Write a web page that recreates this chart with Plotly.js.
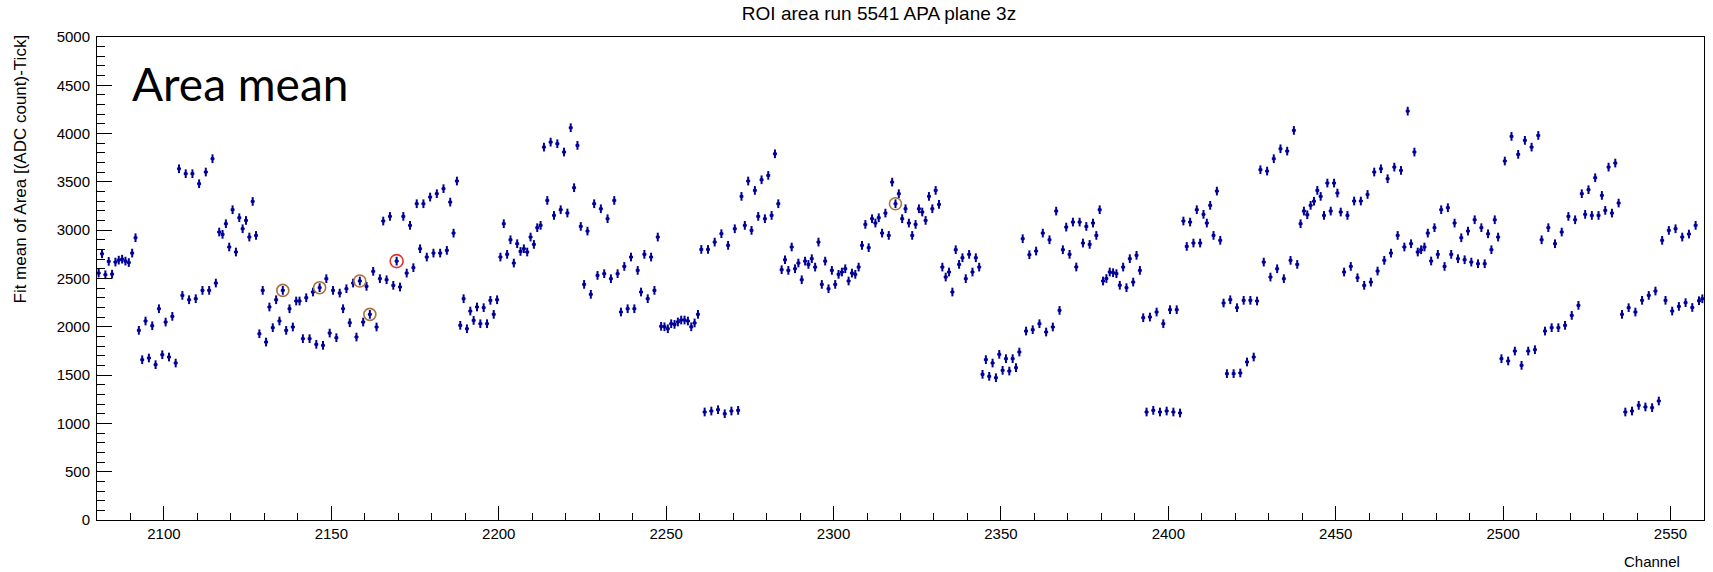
<!DOCTYPE html>
<html>
<head>
<meta charset="utf-8">
<script src="https://cdn.plot.ly/plotly-3.0.1.min.js"></script>
<style>
  html, body { margin: 0; padding: 0; background: #ffffff; }
  #chart { width: 1713px; height: 572px; }
</style>
</head>
<body>
<div id="chart"></div>
<script>
// ---- data: fit mean of ROI area per channel (first channel 2080) ----
const channelStart = 2080;
const areaMeanA = [ // 2080-2159
  2556, 2756, 2539, 2677, 2545, 2670, 2690, 2700, 2680, 2665,
  2763, 2922, 1963, 1659, 2060, 1677, 2011, 1608, 2187, 1711,
  2049, 1687, 2108, 1625, 3636, 2325, 3585, 2280, 3585, 2291,
  3481, 2377, 3602, 2377, 3740, 2453, 2981, 2957, 3067, 2826,
  3212, 2774, 3129, 3015, 3101, 2929, 3298, 2946, 1928, 2377,
  1842, 2205, 1991, 2280, 2060, 2377, 1963, 2187, 1998, 2267,
  2267, 1877, 2301, 1877, 2360, 1818, 2405, 1808, 2498, 1935,
  2377, 1887, 2349, 2187, 2394, 2042, 2453, 1894, 2474, 2049
];
const areaMeanB = [ // 2160-2239
  2419, 2129, 2574, 1998, 2498, 3095, 2487, 3143, 2429, 2680,
  2412, 3143, 2556, 3050, 2612, 3274, 2808, 3274, 2722, 3343,
  2763, 3378, 2763, 3430, 2791, 3291, 2970, 3509, 2015, 2291,
  1980, 2163, 2066, 2205, 2032, 2198, 2032, 2274, 2129, 2280,
  2722, 3067, 2750, 2901, 2660, 2860, 2780, 2808, 2774, 2929,
  2853, 3026, 3050, 3860, 3308, 3912, 3153, 3895, 3212, 3809,
  3178, 4061, 3440, 3878, 3039, 2439, 2991, 2336, 3274, 2532,
  3222, 2550, 3119, 2498, 3308, 2550, 2153, 2625, 2187, 2722
];
const areaMeanC = [ // 2240-2319
  2187, 2584, 2360, 2750, 2291, 2722, 2377, 2929, 2005, 2000,
  1980, 2032, 2025, 2050, 2070, 2070, 2060, 2000, 2040, 2129,
  2801, 1118, 2801, 1128, 2877, 1142, 2964, 1100, 2843, 1128,
  3015, 1135, 3350, 3050, 3509, 2998, 3412, 3143, 3522, 3119,
  3567, 3153, 3791, 3274, 2591, 2694, 2584, 2826, 2601, 2660,
  2487, 2680, 2646, 2705, 2618, 2877, 2439, 2680, 2394, 2584,
  2439, 2543, 2567, 2601, 2474, 2556, 2543, 2618, 2843, 3060,
  2819, 3119, 3074, 3129, 2970, 3177, 2946, 3498, 3274, 3378
];
const areaMeanD = [ // 2320-2399
  3119, 3222, 3074, 2946, 3060, 3222, 3188, 3101, 3350, 3222,
  3412, 3267, 2618, 2515, 2567, 2360, 2798, 2646, 2715, 2498,
  2750, 2567, 2715, 2618, 1508, 1660, 1487, 1625, 1473, 1715,
  1549, 1670, 1542, 1670, 1577, 1739, 2912, 1956, 2746, 1970,
  2784, 2032, 2970, 1946, 2901, 1998, 3198, 2170, 2798, 3032,
  2750, 3084, 2619, 3084, 2867, 3039, 2853, 3074, 2946, 3212,
  2474, 2500, 2567, 2560, 2550, 2430, 2618, 2405, 2705, 2463,
  2740, 2584, 2094, 1118, 2101, 1135, 2153, 1118, 2032, 1128
];
const areaMeanE = [ // 2400-2479
  2177, 1118, 2177, 1108, 3095, 2832, 3084, 2867, 3212, 2867,
  3164, 3074, 3257, 2946, 3405, 2895, 2246, 1515, 2280, 1515,
  2198, 1522, 2274, 1636, 2274, 1687, 2267, 3626, 2670, 3612,
  2515, 3740, 2601, 3843, 2498, 3819, 2688, 4033, 2646, 3067,
  3198, 3160, 3257, 3300, 3412, 3350, 3153, 3488, 3198, 3488,
  3385, 3188, 2567, 3153, 2625, 3302, 2508, 3302, 2429, 3370,
  2463, 3602, 2577, 3636, 2688, 3533, 2763, 3653, 2946, 3619,
  2826, 4233, 2860, 3809, 2774, 2798, 2826, 2970, 2681, 3026
];
const areaMeanF = [ // 2480-2559
  2750, 3212, 2625, 3233, 2750, 3074, 2705, 2922, 2694, 2991,
  2670, 3108, 2653, 3026, 2653, 2963, 2798, 3108, 2929, 1670,
  3716, 1646, 3971, 1749, 3785, 1601, 3930, 1749, 3860, 1763,
  3981, 2901, 1956, 3026, 1991, 2860, 1991, 2981, 2015, 3143,
  2118, 3108, 2222, 3378, 3164, 3419, 3153, 3543, 3153, 3360,
  3205, 3653, 3177, 3695, 3281, 2129, 1118, 2198, 1128, 2153,
  1187, 2274, 1170, 2325, 1163, 2370, 1232, 2895, 2274, 2998,
  2163, 3015, 2211, 2929, 2250, 2960, 2200, 3050, 2270, 2290
];
const circledChannels = [2135, 2146, 2158, 2161, 2318];
const redCircledChannels = [2169];

const titleText = "ROI area run 5541 APA plane 3z";
const yTitleText = "Fit mean of Area [(ADC count)-Tick]";
const xTitleText = "Channel";
const noteText = "Area mean";

// ---- build ----
const areaMean = [].concat(areaMeanA, areaMeanB, areaMeanC, areaMeanD, areaMeanE, areaMeanF);
const channels = areaMean.map((_, i) => channelStart + i);
const binCentre = channels.map(c => c + 0.5);
const lookup = chs => chs.map(c => areaMean[c - channelStart]);

const blue = '#000099';
const W = 1713, H = 572;
const M = {l: 97, r: 9, t: 37, b: 52};
const pw = W - M.l - M.r, ph = H - M.t - M.b;
const px = x => (x - M.l) / pw;
const py = y => (H - M.b - y) / ph;

const traces = [
  {
    type: 'scatter', mode: 'markers',
    x: binCentre, y: areaMean,
    marker: {color: blue, size: 3, symbol: 'square', line: {width: 0}},
    error_x: {type: 'constant', value: 0.6, thickness: 2, width: 0, color: blue},
    error_y: {type: 'constant', value: 45, thickness: 2, width: 0, color: blue},
    hoverinfo: 'x+y', showlegend: false
  },
  {
    type: 'scatter', mode: 'markers',
    x: circledChannels.map(c => c + 0.5), y: lookup(circledChannels),
    marker: {symbol: 'circle-open', size: 12, color: '#a8743f', line: {width: 1.6, color: '#a8743f'}},
    hoverinfo: 'skip', showlegend: false
  },
  {
    type: 'scatter', mode: 'markers',
    x: redCircledChannels.map(c => c + 0.5), y: lookup(redCircledChannels),
    marker: {symbol: 'circle-open', size: 13, color: '#e03428', line: {width: 1.6, color: '#e03428'}},
    hoverinfo: 'skip', showlegend: false
  }
];

const axisFont = {family: 'Liberation Sans, Arial, sans-serif', size: 15, color: '#000'};

const layout = {
  width: W, height: H,
  margin: M,
  paper_bgcolor: '#ffffff', plot_bgcolor: '#ffffff',
  showlegend: false,
  title: {
    text: titleText,
    x: 879 / W, xref: 'container', xanchor: 'center',
    y: 1 - 13 / H, yref: 'container', yanchor: 'middle',
    font: {family: 'Liberation Sans, Arial, sans-serif', size: 19, color: '#000'}
  },
  xaxis: {
    range: [2080, 2560],
    tick0: 2100, dtick: 50,
    ticks: 'inside', ticklen: 14, tickwidth: 1, tickcolor: '#000',
    minor: {ticks: 'inside', ticklen: 7, dtick: 10, tickcolor: '#000', tickwidth: 1},
    showline: true, linecolor: '#000', linewidth: 1, mirror: true,
    showgrid: false, zeroline: false,
    tickfont: axisFont
  },
  yaxis: {
    range: [0, 5000],
    tick0: 0, dtick: 500,
    ticks: 'inside', ticklen: 15, tickwidth: 1, tickcolor: '#000',
    minor: {ticks: 'inside', ticklen: 8, dtick: 100, tickcolor: '#000', tickwidth: 1},
    showline: true, linecolor: '#000', linewidth: 1, mirror: true,
    showgrid: false, zeroline: false,
    tickfont: axisFont, ticklabelstandoff: 3
  },
  annotations: [
    {
      text: noteText, xref: 'paper', yref: 'paper',
      x: px(130), y: py(83), xanchor: 'left', yanchor: 'middle',
      showarrow: false,
      font: {family: 'Lato, Open Sans, sans-serif', size: 46, color: '#000'}
    },
    {
      text: yTitleText, xref: 'paper', yref: 'paper',
      x: px(20), y: py(33), xanchor: 'center', yanchor: 'top',
      textangle: -90, showarrow: false,
      font: {family: 'Liberation Sans, Arial, sans-serif', size: 17, color: '#000'}
    },
    {
      text: xTitleText, xref: 'paper', yref: 'paper',
      x: px(1682), y: py(561), xanchor: 'right', yanchor: 'middle',
      showarrow: false,
      font: {family: 'Liberation Sans, Arial, sans-serif', size: 15, color: '#000'}
    }
  ]
};

Plotly.newPlot('chart', traces, layout, {staticPlot: true, displayModeBar: false});
</script>
</body>
</html>
